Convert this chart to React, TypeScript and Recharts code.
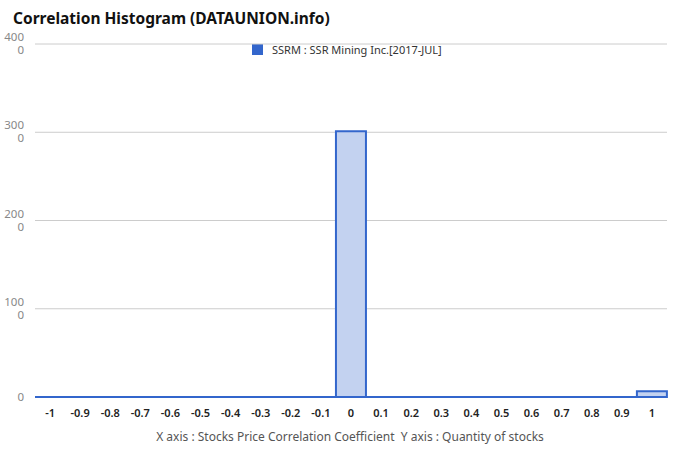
import { BarChart, Bar, XAxis, YAxis, CartesianGrid, Rectangle } from "recharts";

document.body.style.margin = "0";

const categories = [
  "-1", "-0.9", "-0.8", "-0.7", "-0.6", "-0.5", "-0.4", "-0.3", "-0.2", "-0.1",
  "0", "0.1", "0.2", "0.3", "0.4", "0.5", "0.6", "0.7", "0.8", "0.9", "1",
];
const counts = [0, 0, 0, 0, 0, 0, 0, 0, 0, 0, 3010, 0, 0, 0, 0, 0, 0, 0, 0, 0, 65];
const yTicks = [0, 1000, 2000, 3000, 4000];
const seriesName = "SSRM : SSR Mining Inc.[2017-JUL]";

const data = categories.map((c, i) => ({ name: c, value: counts[i] }));

const FONT = "'Noto Sans', sans-serif";
const FILL = "#c3d2f0";
const STROKE = "#3366cc";

// google-style labels that wrap after 3 chars ("400" / "0"), one text element
const YTick = (props: any) => {
  const { x, y, payload } = props;
  const s = String(payload.value);
  const a = s.slice(0, 3);
  const b = s.slice(3);
  return (
    <text x={x} y={b ? y - 3 : y + 4} textAnchor="end" fontSize={11.5} fill="#888" fontFamily={FONT}>
      <tspan x={x}>{a}</tspan>
      {b && (
        <tspan x={x} dy={13}>
          {b}
        </tspan>
      )}
    </text>
  );
};

const HistBar = (props: any) => {
  const { x, y, width, height } = props;
  if (!height) return null;
  return <Rectangle x={x} y={y} width={width} height={height} fill={FILL} stroke={STROKE} strokeWidth={2} />;
};

export default function App() {
  return (
    <div style={{ position: "relative", width: 680, height: 462, background: "#fff", fontFamily: FONT }}>
      <div style={{ position: "absolute", left: 13, top: 7, fontSize: 15.5, fontWeight: 700, color: "#111" }}>
        Correlation Histogram (DATAUNION.info)
      </div>
      <div style={{ position: "absolute", left: 252, top: 42, display: "flex", alignItems: "center", fontSize: 11, color: "#333" }}>
        <span style={{ display: "inline-block", width: 11, height: 11, background: STROKE, marginRight: 9 }} />
        {seriesName}
      </div>
      <BarChart
        width={680}
        height={462}
        data={data}
        margin={{ top: 44, right: 13, left: 0, bottom: 0 }}
        barCategoryGap={0}
      >
        <CartesianGrid vertical={false} stroke="#ccc" />
        <XAxis
          dataKey="name"
          interval={0}
          tickLine={false}
          axisLine={{ stroke: STROKE, strokeWidth: 2 }}
          height={65}
          tickMargin={6}
          tick={{ fontSize: 11, fill: "#222", fontWeight: 600, fontFamily: FONT }}
        />
        <YAxis
          width={35}
          domain={[0, 4000]}
          ticks={yTicks}
          tickLine={false}
          axisLine={false}
          tickMargin={5}
          tick={<YTick />}
        />
        <Bar dataKey="value" name={seriesName} shape={<HistBar />} isAnimationActive={false} />
      </BarChart>
      <div style={{ position: "absolute", left: 0, width: 700, top: 428, textAlign: "center", fontSize: 12, color: "#555" }}>
        X axis : Stocks Price Correlation Coefficient&nbsp;&nbsp;Y axis : Quantity of stocks
      </div>
    </div>
  );
}
